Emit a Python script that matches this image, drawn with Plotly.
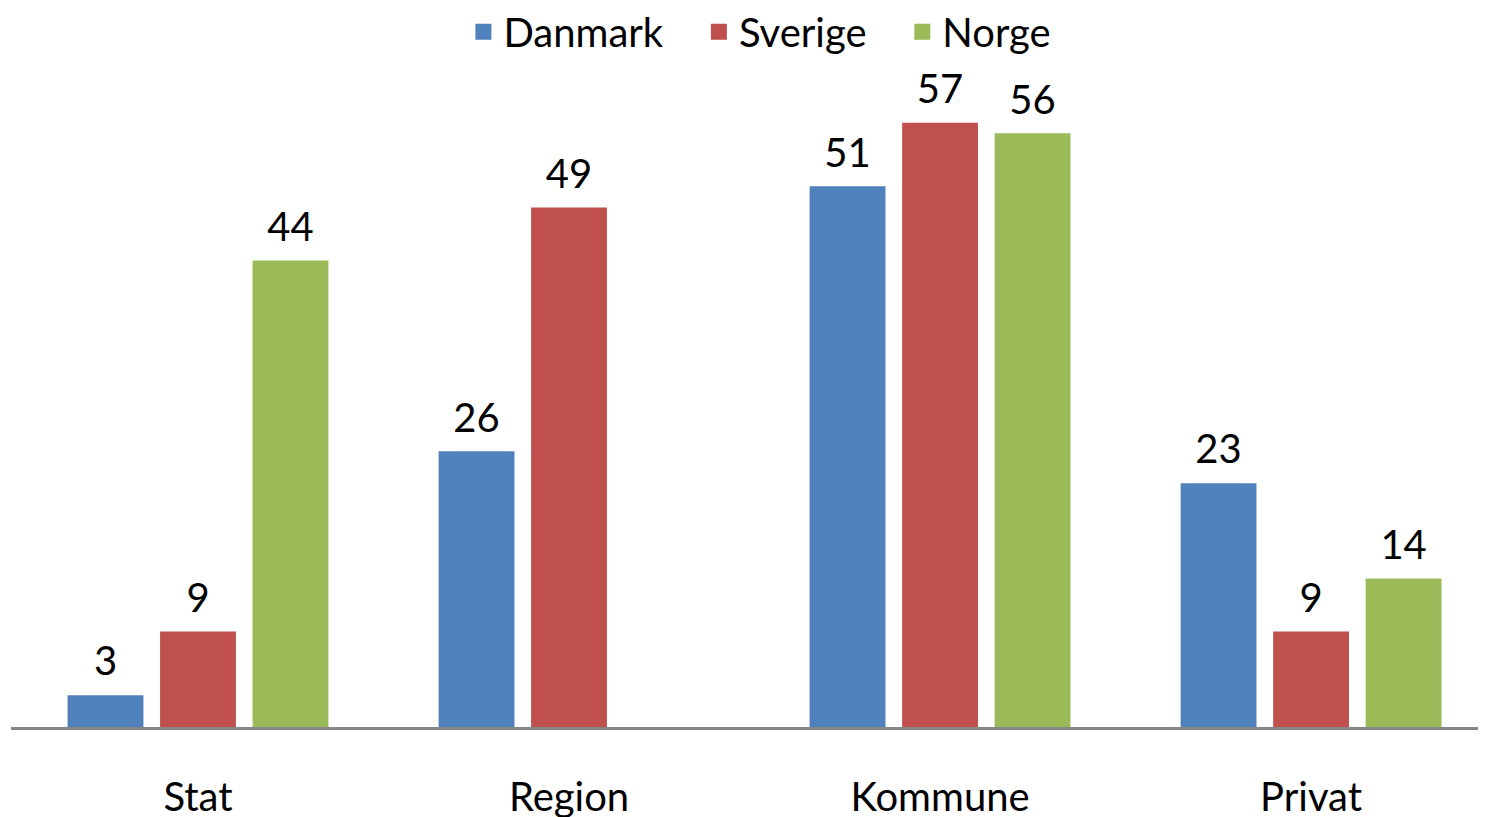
import plotly.graph_objects as go

categories = ["Stat", "Region", "Kommune", "Privat"]
danmark = [3, 26, 51, 23]
sverige = [9, 49, 57, 9]
norge = [44, None, 56, 14]

NB = "\u00a0"
series = [
    ("Danmark", danmark, "#4F81BD", NB * 3),
    ("Sverige", sverige, "#C0504D", NB * 3),
    ("Norge", norge, "#9BBB59", ""),
]

FONT = "Lato"
FS = 40
fig = go.Figure()
for name, vals, color, pad in series:
    fig.add_trace(go.Bar(
        name=name, x=categories, y=vals, offsetgroup=name,
        marker=dict(color=color, line=dict(width=0)),
        showlegend=False, hoverinfo="skip",
    ))
# value labels aligned with the grouped bars
for name, vals, color, pad in series:
    fig.add_trace(go.Scatter(
        name=name, x=categories, y=vals, offsetgroup=name,
        mode="markers+text",
        marker=dict(size=14, opacity=0, color=color),
        text=[("" if v is None else str(v)) for v in vals],
        textposition="top center",
        textfont=dict(family=FONT, size=FS, color="black"),
        cliponaxis=False, showlegend=False,
    ))
# legend entries with larger square swatches (on an overlay axis)
for name, vals, color, pad in series:
    fig.add_trace(go.Scatter(
        name=name + pad, x=[None], y=[None], mode="markers",
        xaxis="x2", yaxis="y2",
        marker=dict(symbol="square", size=23, color=color),
        showlegend=True,
    ))

fig.update_layout(
    width=1486, height=817,
    margin=dict(l=3, r=0, t=32, b=98, autoexpand=False),
    paper_bgcolor="white", plot_bgcolor="white",
    barmode="group", bargap=0.252, bargroupgap=0.18,
    scattermode="group", scattergap=0.252,
    font=dict(family=FONT, size=FS, color="black"),
    showlegend=True,
    legend=dict(orientation="h", x=0.505, xanchor="center",
                y=0.971, yref="container", yanchor="middle",
                font=dict(family=FONT, size=FS, color="black"),
                itemwidth=30, tracegroupgap=0, itemsizing="trace"),
    xaxis2=dict(overlaying="x", visible=False, range=[0, 1]),
    yaxis2=dict(overlaying="y", visible=False, range=[0, 1]),
)
fig.layout.xaxis.update(type="category", range=[-0.504, 3.493], automargin=False,
                        showline=True, linecolor="#868686", linewidth=2.5,
                        showgrid=False, ticks="", ticklabelstandoff=33,
                        tickfont=dict(family=FONT, size=FS, color="black"))
fig.layout.yaxis.update(range=[0, 64.8], visible=False, showgrid=False,
                        zeroline=False, automargin=False)

fig.write_html("out.html")
